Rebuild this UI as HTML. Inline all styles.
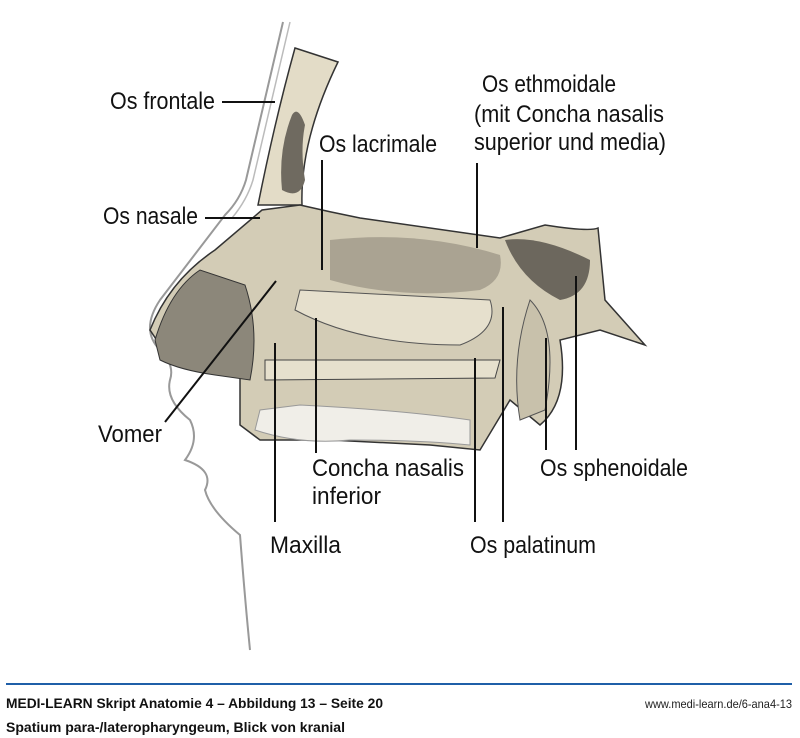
<!DOCTYPE html>
<html><head><meta charset="utf-8"><style>
html,body{margin:0;padding:0;background:#fff}
svg{display:block}
.l{font-family:"Liberation Sans",sans-serif;font-size:24px;fill:#111}
.f{font-family:"Liberation Sans",sans-serif;font-weight:bold;font-size:14px;fill:#111}
</style></head><body>
<svg width="800" height="738" viewBox="0 0 800 738" xmlns="http://www.w3.org/2000/svg">
<path d="M283,22 L246,180 Q240,200 225,215 L160,300 Q140,330 160,350 Q175,365 170,380 Q165,400 190,420 Q200,440 185,460 Q215,470 205,490 Q210,510 240,535 Q245,600 250,650" fill="none" stroke="#999" stroke-width="2"/>
<path d="M290,22 L253,180 Q247,200 232,218" fill="none" stroke="#bbb" stroke-width="1.5"/>
<path d="M295,48 Q275,120 258,205 L302,205 Q300,140 338,62 Z" fill="#e3dcc7" stroke="#333" stroke-width="1.5"/>
<path d="M292,115 Q278,150 282,190 Q300,200 305,180 Q300,150 305,125 Q298,105 292,115Z" fill="#6f6a60"/>
<path d="M150,330 Q170,280 215,250 L262,210 L300,205 Q330,212 360,218 L500,238 L545,225 Q590,232 598,228 L605,300 L645,345 L600,330 L560,340 Q570,400 540,425 L510,400 L480,450 L430,445 L330,440 L260,440 L240,425 L240,335 Q200,370 170,360 Z" fill="#d3ccb6" stroke="#333" stroke-width="1.5"/>
<path d="M155,340 Q170,290 200,270 L245,285 Q260,330 250,380 L215,375 Q180,370 160,360 Z" fill="#8c877a" stroke="#333"/>
<path d="M330,240 Q420,230 500,255 Q505,280 480,290 Q400,300 330,280 Z" fill="#aaa392"/>
<path d="M300,290 Q400,295 490,300 Q500,330 460,345 Q360,345 295,310 Z" fill="#e6e0cd" stroke="#555" stroke-width="1"/>
<path d="M505,240 Q540,235 590,260 Q590,295 560,300 Q520,280 505,240Z" fill="#6c675d"/>
<path d="M265,360 L500,360 L495,378 L265,380 Z" fill="#e6e0cd" stroke="#444"/>
<path d="M530,300 Q560,330 545,410 L520,420 Q510,360 530,300Z" fill="#c8c1ab" stroke="#555"/>
<path d="M255,430 Q300,445 350,440 Q420,440 470,445 L470,420 Q400,410 300,405 L260,410 Z" fill="#f0eee8" stroke="#999"/>
<g stroke="#111" stroke-width="2" fill="none">
<line x1="222" y1="102" x2="275" y2="102"/>
<line x1="205" y1="218" x2="260" y2="218"/>
<line x1="322" y1="160" x2="322" y2="270"/>
<line x1="477" y1="163" x2="477" y2="248"/>
<line x1="165" y1="422" x2="276" y2="281"/>
<line x1="316" y1="318" x2="316" y2="453"/>
<line x1="275" y1="343" x2="275" y2="522"/>
<line x1="475" y1="358" x2="475" y2="522"/>
<line x1="503" y1="307" x2="503" y2="522"/>
<line x1="546" y1="338" x2="546" y2="450"/>
<line x1="576" y1="276" x2="576" y2="450"/>
</g>
<g class="l">
<text x="110" y="109" textLength="105" lengthAdjust="spacingAndGlyphs">Os frontale</text>
<text x="103" y="224" textLength="95" lengthAdjust="spacingAndGlyphs">Os nasale</text>
<text x="319" y="152" textLength="118" lengthAdjust="spacingAndGlyphs">Os lacrimale</text>
<text x="482" y="92" textLength="134" lengthAdjust="spacingAndGlyphs">Os ethmoidale</text>
<text x="474" y="122" textLength="190" lengthAdjust="spacingAndGlyphs">(mit Concha nasalis</text>
<text x="474" y="150" textLength="192" lengthAdjust="spacingAndGlyphs">superior und media)</text>
<text x="98" y="442" textLength="64" lengthAdjust="spacingAndGlyphs">Vomer</text>
<text x="312" y="476" textLength="152" lengthAdjust="spacingAndGlyphs">Concha nasalis</text>
<text x="312" y="504" textLength="69" lengthAdjust="spacingAndGlyphs">inferior</text>
<text x="540" y="476" textLength="148" lengthAdjust="spacingAndGlyphs">Os sphenoidale</text>
<text x="270" y="553" textLength="71" lengthAdjust="spacingAndGlyphs">Maxilla</text>
<text x="470" y="553" textLength="126" lengthAdjust="spacingAndGlyphs">Os palatinum</text>
</g>
<line x1="6" y1="684" x2="792" y2="684" stroke="#1f5fa8" stroke-width="2"/>
<text class="f" x="6" y="708" textLength="377" lengthAdjust="spacingAndGlyphs">MEDI-LEARN Skript Anatomie 4 – Abbildung 13 – Seite 20</text>
<text class="f" x="6" y="732" textLength="339" lengthAdjust="spacingAndGlyphs">Spatium para-/lateropharyngeum, Blick von kranial</text>
<text x="645" y="708" textLength="147" lengthAdjust="spacingAndGlyphs" style="font-family:'Liberation Sans',sans-serif;font-size:12px;fill:#222">www.medi-learn.de/6-ana4-13</text>
</svg>
</body></html>
